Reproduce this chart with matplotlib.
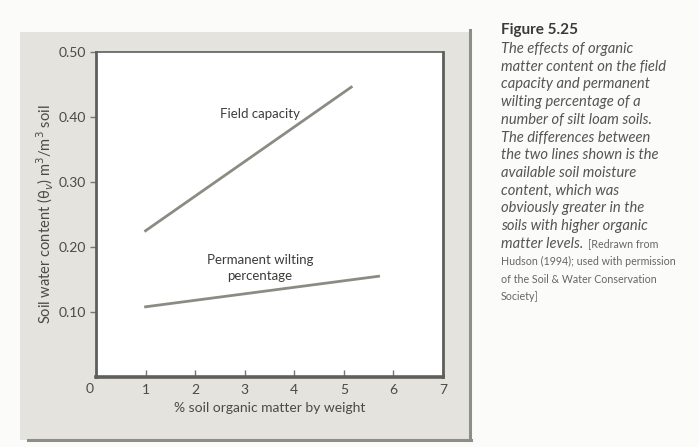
import numpy as np
import matplotlib.pyplot as plt
from matplotlib.patches import Rectangle
from matplotlib.lines import Line2D

# data
om_fc = [1.0, 5.15]
fc = [0.225, 0.446]
om_pwp = [1.0, 5.7]
pwp = [0.108, 0.155]
xticks = [1, 2, 3, 4, 5, 6, 7]
yticks = [0.10, 0.20, 0.30, 0.40, 0.50]
ylabels = ['0.10', '0.20', '0.30', '0.40', '0.50']

caption_italic = ["The effects of organic",
                  "matter content on the field",
                  "capacity and permanent",
                  "wilting percentage of a",
                  "number of silt loam soils.",
                  "The differences between",
                  "the two lines shown is the",
                  "available soil moisture",
                  "content, which was",
                  "obviously greater in the",
                  "soils with higher organic",
                  "matter levels."]
caption_small = ["[Redrawn from",
                 "Hudson (1994); used with permission",
                 "of the Soil & Water Conservation",
                 "Society]"]

plt.rcParams['font.family'] = ['Lato', 'DejaVu Sans']
W, H = 699, 447
fig = plt.figure(figsize=(W / 100, H / 100), dpi=100)
fig.patch.set_facecolor('#fbfbf9')

def fx(px):
    return px / W

def fy(py):
    return 1 - py / H

# grey panel behind the chart
fig.patches.append(Rectangle((fx(20), fy(440)), fx(451), 408 / H,
                             transform=fig.transFigure, facecolor='#e4e3dd',
                             edgecolor='none', zorder=-10))
fig.lines.append(Line2D([fx(470), fx(470)], [fy(30), fy(440)],
                        transform=fig.transFigure, color='#8e8e88', lw=2.2,
                        zorder=-5))
fig.lines.append(Line2D([fx(28), fx(471)], [fy(440), fy(440)],
                        transform=fig.transFigure, color='#8e8e88', lw=2.2,
                        zorder=-5))

ax = fig.add_axes([fx(96), fy(377), fx(443 - 96), (377 - 52) / H])
ax.set_zorder(1)
ax.set_facecolor('white')
ax.plot(om_fc, fc, color='#8c8b83', lw=2.0)
ax.plot(om_pwp, pwp, color='#8c8b83', lw=2.0)
ax.set_xlim(0, 7)
ax.set_ylim(0, 0.5)

for s in ax.spines.values():
    s.set_color('#5e5e5a')
ax.spines['left'].set_linewidth(2.0)
ax.spines['bottom'].set_linewidth(2.6)
ax.spines['top'].set_linewidth(1.2)
ax.spines['right'].set_linewidth(2.0)

ax.set_xticks(xticks)
ax.set_xticklabels([str(t) for t in xticks])
ax.set_yticks(yticks)
ax.set_yticklabels(ylabels)
ax.tick_params(axis='x', direction='in', length=5, width=1, color='#77776f',
               labelsize=10, labelcolor='#4a4a48', pad=5)
ax.tick_params(axis='y', direction='out', length=4, width=1, color='#77776f',
               labelsize=10, labelcolor='#4a4a48', pad=3)
ax.text(-0.12, -0.018, '0', ha='center', va='center', fontsize=10,
        color='#4a4a48')

ax.set_xlabel('% soil organic matter by weight', fontsize=10, color='#4a4a48',
              labelpad=4)
ax.set_ylabel('Soil water content (θ$_v$) m$^3$/m$^3$ soil', fontsize=10.5,
              color='#4a4a48')
ax.yaxis.set_label_coords(-0.115, 0.5)

ax.text(3.31, 0.405, 'Field capacity', ha='center', va='center', fontsize=9.5,
        color='#3c3c3a')
ax.text(3.31, 0.168, 'Permanent wilting\npercentage', ha='center',
        va='center', fontsize=9.5, color='#3c3c3a', linespacing=1.4)

# caption on the right
x0 = fx(501)
fig.text(x0, fy(30), 'Figure 5.25', fontsize=11, fontweight='bold',
         color='#3a3a3a', va='center')
step = 17.7
last = None
for i, line in enumerate(caption_italic):
    last = fig.text(x0, fy(49 + i * step), line, fontsize=10.6, style='italic',
                    color='#555553', va='center')
ylast = 49 + (len(caption_italic) - 1) * step
renderer = fig.canvas.get_renderer()
bb = last.get_window_extent(renderer)
fig.text(fx(bb.x1 + 5), fy(ylast), caption_small[0], fontsize=7.7,
         color='#666664', va='center')
for i, line in enumerate(caption_small[1:]):
    fig.text(x0, fy(ylast + (i + 1) * step), line, fontsize=7.7,
             color='#666664', va='center')

fig.savefig('out.png', dpi=100, facecolor=fig.get_facecolor())
